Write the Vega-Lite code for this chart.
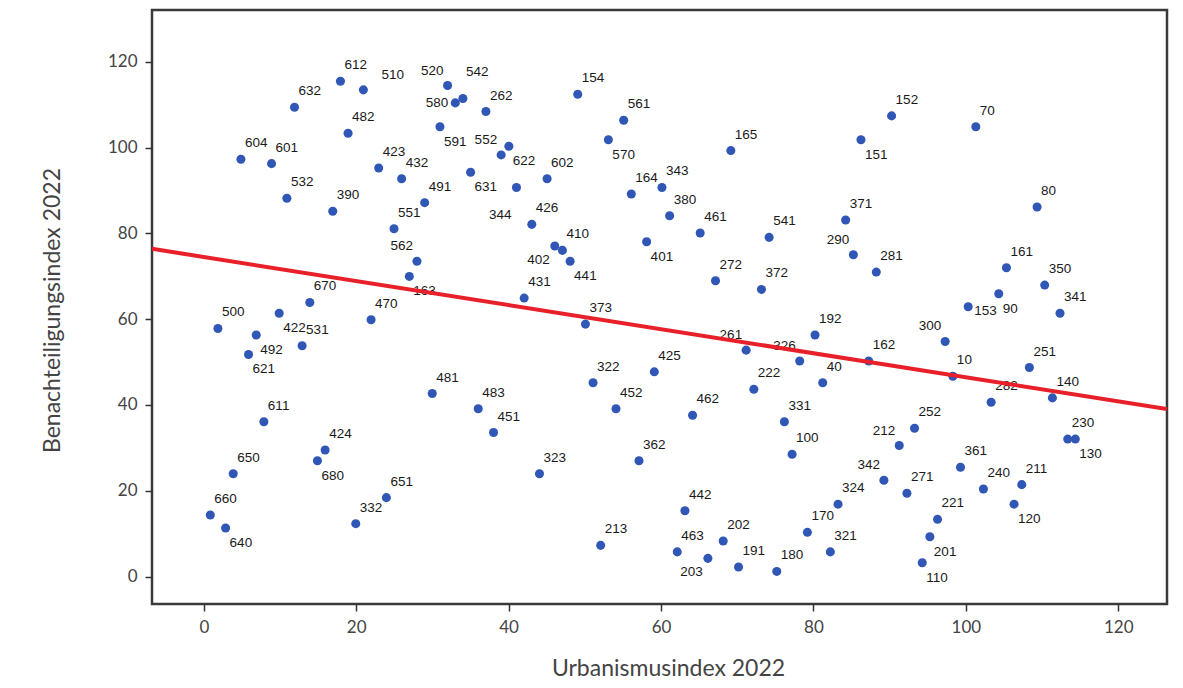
{
  "$schema": "https://vega.github.io/schema/vega-lite/v6.json",
  "width": 1015,
  "height": 594,
  "autosize": {"type": "none"},
  "padding": {"left": 152, "top": 10, "right": 16, "bottom": 84},
  "background": "white",
  "config": {
    "view": {"stroke": "#3a3a3a", "strokeWidth": 2.5, "fill": "white"},
    "axis": {
      "grid": false,
      "domain": false,
      "tickSize": 7,
      "tickColor": "#333333",
      "tickWidth": 1.5,
      "labelFont": "Lato",
      "labelFontSize": 17,
      "labelColor": "#444444",
      "labelPadding": 8,
      "titleFont": "Lato",
      "titleFontSize": 23,
      "titleFontWeight": "normal",
      "titleColor": "#444444"
    },
    "text": {"font": "Liberation Sans", "fontSize": 13.5, "color": "#1a1a1a", "baseline": "middle"}
  },
  "data": {
    "values": [
      {"id": "660", "u": 0.85, "b": 14.35},
      {"id": "500", "u": 1.85, "b": 57.85},
      {"id": "640", "u": 2.86, "b": 11.32},
      {"id": "650", "u": 3.86, "b": 23.96},
      {"id": "604", "u": 4.87, "b": 97.29},
      {"id": "621", "u": 5.87, "b": 51.78},
      {"id": "492", "u": 6.88, "b": 56.33},
      {"id": "611", "u": 7.88, "b": 36.1},
      {"id": "601", "u": 8.89, "b": 96.28},
      {"id": "422", "u": 9.89, "b": 61.39},
      {"id": "532", "u": 10.9, "b": 88.19},
      {"id": "632", "u": 11.9, "b": 109.43},
      {"id": "531", "u": 12.9, "b": 53.8},
      {"id": "670", "u": 13.91, "b": 63.91},
      {"id": "680", "u": 14.91, "b": 26.99},
      {"id": "424", "u": 15.92, "b": 29.52},
      {"id": "390", "u": 16.92, "b": 85.16},
      {"id": "612", "u": 17.93, "b": 115.5},
      {"id": "482", "u": 18.93, "b": 103.36},
      {"id": "332", "u": 19.94, "b": 12.33},
      {"id": "510", "u": 20.94, "b": 113.48},
      {"id": "470", "u": 21.95, "b": 59.87},
      {"id": "423", "u": 22.95, "b": 95.27},
      {"id": "651", "u": 23.96, "b": 18.4},
      {"id": "551", "u": 24.96, "b": 81.11},
      {"id": "432", "u": 25.96, "b": 92.74},
      {"id": "163", "u": 26.97, "b": 69.98},
      {"id": "562", "u": 27.97, "b": 73.52},
      {"id": "491", "u": 28.98, "b": 87.18},
      {"id": "481", "u": 29.98, "b": 42.67},
      {"id": "591", "u": 30.99, "b": 104.88},
      {"id": "520", "u": 31.99, "b": 114.49},
      {"id": "580", "u": 33.0, "b": 110.44},
      {"id": "542", "u": 34.0, "b": 111.46},
      {"id": "631", "u": 35.01, "b": 94.26},
      {"id": "483", "u": 36.01, "b": 39.13},
      {"id": "262", "u": 37.02, "b": 108.42},
      {"id": "451", "u": 38.02, "b": 33.57},
      {"id": "552", "u": 39.02, "b": 98.31},
      {"id": "622", "u": 40.03, "b": 100.33},
      {"id": "344", "u": 41.03, "b": 90.72},
      {"id": "431", "u": 42.04, "b": 64.93},
      {"id": "426", "u": 43.04, "b": 82.12},
      {"id": "323", "u": 44.05, "b": 23.96},
      {"id": "602", "u": 45.05, "b": 92.74},
      {"id": "402", "u": 46.06, "b": 77.06},
      {"id": "410", "u": 47.06, "b": 76.05},
      {"id": "441", "u": 48.07, "b": 73.52},
      {"id": "154", "u": 49.07, "b": 112.47},
      {"id": "373", "u": 50.08, "b": 58.86},
      {"id": "322", "u": 51.08, "b": 45.2},
      {"id": "213", "u": 52.08, "b": 7.27},
      {"id": "570", "u": 53.09, "b": 101.85},
      {"id": "452", "u": 54.09, "b": 39.13},
      {"id": "561", "u": 55.1, "b": 106.4},
      {"id": "164", "u": 56.1, "b": 89.2},
      {"id": "362", "u": 57.11, "b": 26.99},
      {"id": "401", "u": 58.11, "b": 78.08},
      {"id": "425", "u": 59.12, "b": 47.73},
      {"id": "343", "u": 60.12, "b": 90.72},
      {"id": "380", "u": 61.13, "b": 84.14},
      {"id": "463", "u": 62.13, "b": 5.75},
      {"id": "442", "u": 63.14, "b": 15.36},
      {"id": "462", "u": 64.14, "b": 37.62},
      {"id": "461", "u": 65.14, "b": 80.1},
      {"id": "203", "u": 66.15, "b": 4.24},
      {"id": "272", "u": 67.15, "b": 68.97},
      {"id": "202", "u": 68.16, "b": 8.28},
      {"id": "165", "u": 69.16, "b": 99.32},
      {"id": "191", "u": 70.17, "b": 2.21},
      {"id": "261", "u": 71.17, "b": 52.79},
      {"id": "222", "u": 72.18, "b": 43.68},
      {"id": "372", "u": 73.18, "b": 66.95},
      {"id": "541", "u": 74.19, "b": 79.09},
      {"id": "180", "u": 75.19, "b": 1.2},
      {"id": "331", "u": 76.19, "b": 36.1},
      {"id": "100", "u": 77.2, "b": 28.51},
      {"id": "326", "u": 78.2, "b": 50.26},
      {"id": "170", "u": 79.21, "b": 10.31},
      {"id": "192", "u": 80.21, "b": 56.33},
      {"id": "40", "u": 81.22, "b": 45.2},
      {"id": "321", "u": 82.22, "b": 5.75},
      {"id": "324", "u": 83.23, "b": 16.88},
      {"id": "371", "u": 84.23, "b": 83.13},
      {"id": "290", "u": 85.24, "b": 75.04},
      {"id": "151", "u": 86.24, "b": 101.85},
      {"id": "162", "u": 87.25, "b": 50.26},
      {"id": "281", "u": 88.25, "b": 70.99},
      {"id": "342", "u": 89.25, "b": 22.44},
      {"id": "152", "u": 90.26, "b": 107.41},
      {"id": "212", "u": 91.26, "b": 30.54},
      {"id": "271", "u": 92.27, "b": 19.41},
      {"id": "252", "u": 93.27, "b": 34.58},
      {"id": "110", "u": 94.28, "b": 3.22},
      {"id": "201", "u": 95.28, "b": 9.29},
      {"id": "221", "u": 96.29, "b": 13.34},
      {"id": "300", "u": 97.29, "b": 54.81},
      {"id": "10", "u": 98.3, "b": 46.72},
      {"id": "361", "u": 99.3, "b": 25.48},
      {"id": "153", "u": 100.31, "b": 62.9},
      {"id": "70", "u": 101.31, "b": 104.88},
      {"id": "240", "u": 102.31, "b": 20.42},
      {"id": "282", "u": 103.32, "b": 40.65},
      {"id": "90", "u": 104.32, "b": 65.94},
      {"id": "161", "u": 105.33, "b": 72.01},
      {"id": "120", "u": 106.33, "b": 16.88},
      {"id": "211", "u": 107.34, "b": 21.43},
      {"id": "251", "u": 108.34, "b": 48.74},
      {"id": "80", "u": 109.35, "b": 86.17},
      {"id": "350", "u": 110.35, "b": 67.96},
      {"id": "140", "u": 111.36, "b": 41.66},
      {"id": "341", "u": 112.36, "b": 61.39},
      {"id": "230", "u": 113.37, "b": 32.05},
      {"id": "130", "u": 114.37, "b": 32.05}
    ]
  },
  "encoding": {
    "x": {
      "field": "u",
      "type": "quantitative",
      "scale": {"domain": [-6.8, 126.4], "nice": false, "zero": false},
      "axis": {
        "values": [0, 20, 40, 60, 80, 100, 120],
        "title": "Urbanismusindex 2022",
        "titleX": 516,
        "titleY": 64,
        "titleBaseline": "middle",
        "titleAlign": "center"
      }
    },
    "y": {
      "field": "b",
      "type": "quantitative",
      "scale": {"domain": [-6.4, 132.1], "nice": false, "zero": false},
      "axis": {
        "values": [0, 20, 40, 60, 80, 100, 120],
        "title": "Benachteiligungsindex 2022",
        "titleX": -100,
        "titleY": 300,
        "titleAngle": -90,
        "titleBaseline": "middle",
        "titleAlign": "center"
      }
    }
  },
  "layer": [
    {
      "mark": {"type": "circle", "size": 82, "color": "#3057b5", "opacity": 1}
    },
    {
      "transform": [{"filter": {"not": {"field": "id", "oneOf": ["151", "570", "401", "441", "622", "631", "591", "163", "422", "492", "621", "680", "640", "130", "120", "110", "201", "90", "402", "203", "344", "552", "520", "290", "212", "342", "300", "261", "326", "562", "580", "153", "542", "510"]}}}],
      "mark": {"type": "text", "align": "left", "dx": 4, "dy": -16},
      "encoding": {"text": {"field": "id", "type": "nominal"}}
    },
    {
      "transform": [{"filter": {"field": "id", "oneOf": ["151", "570", "401", "441", "622", "631", "591", "163", "422", "492", "621", "680", "640", "130", "120", "110", "201", "90"]}}],
      "mark": {"type": "text", "align": "left", "dx": 4, "dy": 15},
      "encoding": {"text": {"field": "id", "type": "nominal"}}
    },
    {
      "transform": [{"filter": {"field": "id", "oneOf": ["402", "203"]}}],
      "mark": {"type": "text", "align": "right", "dx": -5, "dy": 14},
      "encoding": {"text": {"field": "id", "type": "nominal"}}
    },
    {
      "transform": [{"filter": {"field": "id", "oneOf": ["344"]}}],
      "mark": {"type": "text", "align": "right", "dx": -5, "dy": 28},
      "encoding": {"text": {"field": "id", "type": "nominal"}}
    },
    {
      "transform": [{"filter": {"field": "id", "oneOf": ["552", "520", "290", "212", "342", "300", "261", "326", "562"]}}],
      "mark": {"type": "text", "align": "right", "dx": -4, "dy": -15},
      "encoding": {"text": {"field": "id", "type": "nominal"}}
    },
    {
      "transform": [{"filter": {"field": "id", "oneOf": ["580"]}}],
      "mark": {"type": "text", "align": "right", "dx": -7, "dy": 0},
      "encoding": {"text": {"field": "id", "type": "nominal"}}
    },
    {
      "transform": [{"filter": {"field": "id", "oneOf": ["153"]}}],
      "mark": {"type": "text", "align": "left", "dx": 6, "dy": 4},
      "encoding": {"text": {"field": "id", "type": "nominal"}}
    },
    {
      "transform": [{"filter": {"field": "id", "oneOf": ["542"]}}],
      "mark": {"type": "text", "align": "left", "dx": 3, "dy": -27},
      "encoding": {"text": {"field": "id", "type": "nominal"}}
    },
    {
      "transform": [{"filter": {"field": "id", "oneOf": ["510"]}}],
      "mark": {"type": "text", "align": "left", "dx": 18, "dy": -15},
      "encoding": {"text": {"field": "id", "type": "nominal"}}
    },
    {
      "transform": [{"regression": "b", "on": "u", "extent": [-6.8, 126.4]}],
      "mark": {"type": "line", "color": "#e8202a", "strokeWidth": 4, "clip": true},
      "encoding": {}
    }
  ]
}
